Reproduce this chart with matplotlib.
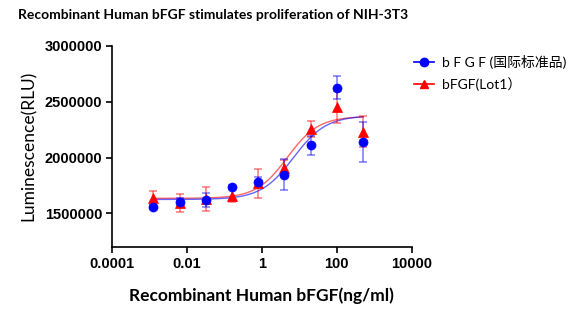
import numpy as np
import matplotlib
matplotlib.use("Agg")
import matplotlib.pyplot as plt
from matplotlib.ticker import FixedLocator, FixedFormatter, NullLocator

# bFGF concentration (ng/ml), 5-fold dilutions
conc = [0.00128, 0.0064, 0.032, 0.16, 0.8, 4, 20, 100, 500]

# standard (blue) and Lot1 (red) luminescence, mean and SD
std_mean = [1560000, 1601000, 1619000, 1735000, 1782000, 1848000, 2109000, 2626000, 2139000]
std_sd = [20000, 36000, 62000, 20000, 45000, 141000, 82000, 101000, 178000]
lot_mean = [1640000, 1591000, 1629000, 1660000, 1770000, 1907000, 2255000, 2451000, 2231000]
lot_sd = [60000, 79000, 108000, 62000, 131000, 70000, 74000, 143000, 141000]

# 4PL fit parameters: bottom, top, EC50, hill
std_fit = (1625000, 2375000, 7.0, 1.0)
lot_fit = (1635000, 2368000, 4.8, 1.05)

x_ticks = [0.0001, 0.01, 1, 100, 10000]
x_labels = ["0.0001", "0.01", "1", "100", "10000"]
y_ticks = [1500000, 2000000, 2500000, 3000000]

BLUE = "#0000FF"
RED = "#FF0000"
FONT = ["Lato", "Noto Sans CJK SC", "DejaVu Sans"]
TICKFONT = ["Liberation Sans", "DejaVu Sans"]


def four_pl(x, p):
    bottom, top, ec50, hill = p
    return bottom + (top - bottom) / (1 + (ec50 / x) ** hill)


fig = plt.figure(figsize=(5.84, 3.23), dpi=100, facecolor="white")
ax = fig.add_axes([0.1918, 0.2353, 0.5132, 0.6232])

xs = np.logspace(np.log10(conc[0]), np.log10(conc[-1]), 300)

# red first, blue sits on top of it in the reference
ax.plot(xs, four_pl(xs, lot_fit), color=RED, lw=1.0, alpha=0.6, zorder=2)
ax.plot(xs, four_pl(xs, std_fit), color=BLUE, lw=1.0, alpha=0.6, zorder=2)

ax.errorbar(conc, lot_mean, yerr=lot_sd, fmt="none", ecolor=RED, elinewidth=1.3,
            capsize=3, capthick=1.3, alpha=0.45, zorder=3)
ax.errorbar(conc, std_mean, yerr=std_sd, fmt="none", ecolor=BLUE, elinewidth=1.3,
            capsize=3, capthick=1.3, alpha=0.45, zorder=3)
ax.plot(conc, lot_mean, "^", color=RED, ms=6.5, mew=0.5, mec=RED, zorder=4)
ax.plot(conc, std_mean, "o", color=BLUE, ms=6.5, mew=0.5, mec=BLUE, zorder=5)

ax.set_xscale("log")
ax.set_xlim(0.0001, 10000)
ax.set_ylim(1200000, 3000000)
ax.xaxis.set_major_locator(FixedLocator(x_ticks))
ax.xaxis.set_major_formatter(FixedFormatter(x_labels))
ax.xaxis.set_minor_locator(NullLocator())
ax.set_yticks(y_ticks)
ax.set_yticklabels([str(v) for v in y_ticks])

for side in ["top", "right"]:
    ax.spines[side].set_visible(False)
for side in ["left", "bottom"]:
    ax.spines[side].set_linewidth(1.2)
ax.tick_params(axis="both", length=4, width=1.2, direction="out", pad=3)
for lab in ax.get_xticklabels() + ax.get_yticklabels():
    lab.set_family(TICKFONT)
    lab.set_fontweight("bold")
    lab.set_fontsize(10.5)

fig.text(0.03, 0.955, "Recombinant Human bFGF stimulates proliferation of NIH-3T3",
         family=FONT, fontweight="bold", fontsize=10, ha="left", va="center")
fig.text(0.448, 0.084, "Recombinant Human bFGF(ng/ml)", family=FONT,
         fontweight="bold", fontsize=12.5, ha="center", va="center")
fig.text(0.05, 0.548, "Luminescence(RLU)", family=FONT, fontsize=12.5,
         rotation=90, ha="center", va="center")

h1, = ax.plot([], [], "-o", color=BLUE, ms=6, lw=1.2)
h2, = ax.plot([], [], "-^", color=RED, ms=6, lw=1.2)
leg = ax.legend([h1, h2], ["b F G F (国际标准品)", "bFGF(Lot1）"],
                loc="upper left", bbox_to_anchor=(0.69, 0.865),
                bbox_transform=fig.transFigure, frameon=False,
                handlelength=1.4, handletextpad=0.6, labelspacing=0.6,
                borderpad=0.3, prop={"family": FONT, "size": 10})

fig.savefig("out.png", dpi=100, facecolor="white")
